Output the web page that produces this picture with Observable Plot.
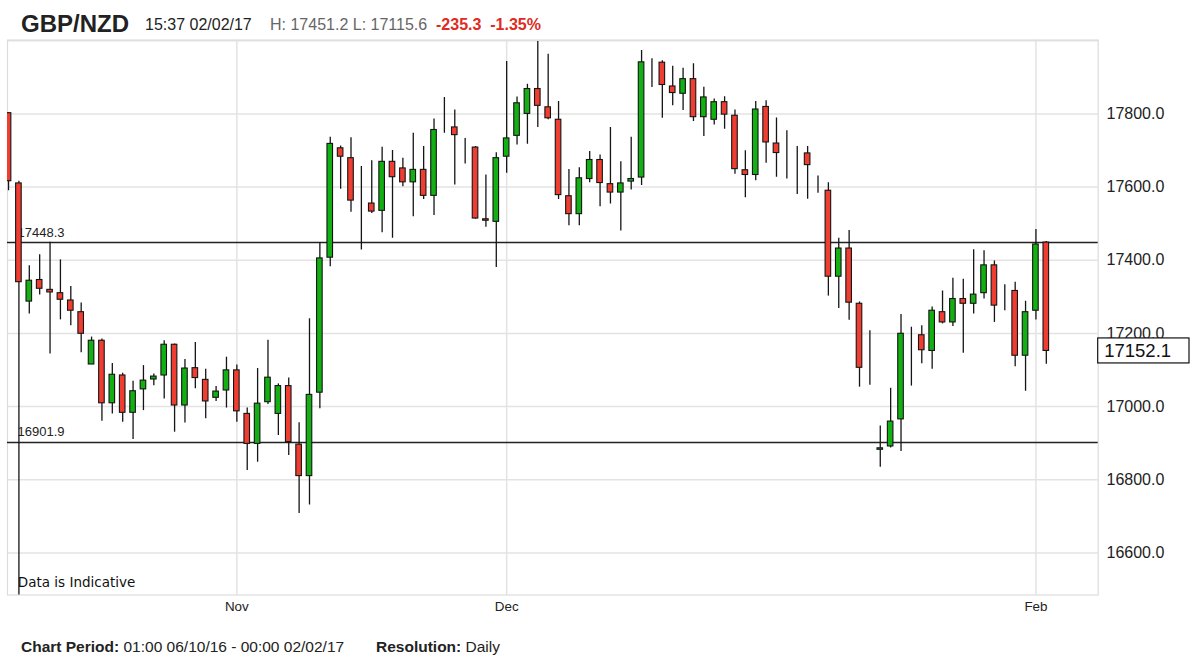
<!DOCTYPE html>
<html>
<head>
<meta charset="utf-8">
<script src="https://cdn.jsdelivr.net/npm/d3@7"></script>
<script src="https://cdn.jsdelivr.net/npm/@observablehq/plot@0.6"></script>
<style>
  html, body { margin: 0; padding: 0; background: #fff; }
  body { font-family: "Liberation Sans", Arial, Helvetica, sans-serif; color: #222; }
  #page { position: relative; width: 1196px; height: 661px; overflow: hidden; }
  #header { position: relative; height: 36px; }
  #header span, #footer span { position: absolute; white-space: pre; line-height: 1; }
  #chart { position: relative; height: 589px; }
  #chart svg { display: block; }
  #footer { position: relative; height: 36px; }
</style>
</head>
<body>
<div id="page">
  <div id="header">
    <span style="left:21px; top:12px; font-size:24px; font-weight:bold; color:#222;">GBP/NZD</span>
    <span style="left:145px; top:17px; font-size:16px; color:#222;">15:37 02/02/17</span>
    <span style="left:270px; top:17px; font-size:16px; color:#666;">H: 17451.2 L: 17115.6</span>
    <span style="left:436px; top:17px; font-size:16px; font-weight:bold; color:#e02a22;">-235.3&#160;&#160;-1.35%</span>
  </div>
  <div id="chart"></div>
  <div id="footer">
    <span style="left:21px; top:14px; font-size:15.5px; color:#222;"><b>Chart Period:</b> 01:00 06/10/16 - 00:00 02/02/17</span>
    <span style="left:376px; top:14px; font-size:15.5px; color:#222;"><b>Resolution:</b> Daily</span>
  </div>
</div>
<script>
// ---- data ----
const dates = [
  "2016-10-06","2016-10-07","2016-10-09","2016-10-10","2016-10-11","2016-10-12","2016-10-13","2016-10-14",
  "2016-10-16","2016-10-17","2016-10-18","2016-10-19","2016-10-20","2016-10-21","2016-10-23","2016-10-24",
  "2016-10-25","2016-10-26","2016-10-27","2016-10-28","2016-10-30","2016-10-31",
  "2016-11-01","2016-11-02","2016-11-03","2016-11-04","2016-11-06","2016-11-07","2016-11-08","2016-11-09",
  "2016-11-10","2016-11-11","2016-11-13","2016-11-14","2016-11-15","2016-11-16","2016-11-17","2016-11-18",
  "2016-11-20","2016-11-21","2016-11-22","2016-11-23","2016-11-24","2016-11-25","2016-11-27","2016-11-28",
  "2016-11-29","2016-11-30",
  "2016-12-01","2016-12-02","2016-12-04","2016-12-05","2016-12-06","2016-12-07","2016-12-08","2016-12-09",
  "2016-12-11","2016-12-12","2016-12-13","2016-12-14","2016-12-15","2016-12-16","2016-12-18","2016-12-19",
  "2016-12-20","2016-12-21","2016-12-22","2016-12-23","2016-12-26","2016-12-27","2016-12-28","2016-12-29",
  "2016-12-30",
  "2017-01-02","2017-01-03","2017-01-04","2017-01-05","2017-01-06","2017-01-08","2017-01-09","2017-01-10",
  "2017-01-11","2017-01-12","2017-01-13","2017-01-15","2017-01-16","2017-01-17","2017-01-18","2017-01-19",
  "2017-01-20","2017-01-22","2017-01-23","2017-01-24","2017-01-25","2017-01-26","2017-01-27","2017-01-29",
  "2017-01-30","2017-01-31",
  "2017-02-01","2017-02-02"
];
const open = [
  17802,17610,17287,17346,17319,17310,17290,17258,17115,17180,17009,17085,16983,17047,17074,17085,
  17169,17003,17105,17073,17024,17044,17099,16980,16898,17012,16980,17056,16896,16810,17038,17407,
  17706,17679,17560,17555,17535,17669,17651,17613,17647,17576,17761,17763,17713,17708,17512,17505,
  17683,17740,17800,17868,17818,17784,17575,17526,17622,17674,17608,17585,17615,17626,17941,17940,
  17875,17855,17895,17791,17784,17832,17795,17646,17633,17819,17719,17691,17691,17692,17593,17590,
  17355,17432,17281,17108,16882,16891,16965,17200,17195,17152,17258,17230,17294,17281,17310,17386,
  17319,17316,17139,17262,17448.3
];
const high = [
  17802,17616,17385,17415,17449,17401,17328,17283,17190,17185,17118,17091,17069,17112,17089,17180,
  17171,17129,17175,17102,17055,17135,17114,16996,17104,17181,17062,17078,16956,17240,17448,17736,
  17712,17735,17656,17672,17709,17700,17679,17747,17711,17786,17845,17811,17733,17711,17633,17694,
  17943,17846,17881,17998,17963,17834,17648,17653,17697,17688,17763,17669,17736,17973,17951,17945,
  17930,17925,17937,17873,17841,17847,17811,17699,17834,17836,17789,17754,17711,17711,17630,17612,
  17460,17481,17286,17207,16947,17050,17252,17217,17221,17272,17316,17351,17348,17429,17426,17398,
  17333,17340,17288,17484,17451.2
];
const low = [
  17590,16400,17253,17305,17144,17237,17221,17147,17115,16960,16980,16957,16910,16989,17057,17021,
  16930,16955,17049,16967,17014,16996,16957,16825,16848,17006,16921,16866,16708,16731,16994,17382,
  17594,17531,17428,17528,17475,17460,17601,17519,17566,17522,17747,17606,17663,17512,17490,17380,
  17638,17715,17717,17763,17784,17566,17494,17494,17612,17546,17554,17480,17592,17604,17872,17788,
  17822,17809,17779,17738,17770,17758,17635,17571,17617,17665,17627,17622,17580,17567,17583,17302,
  17268,17236,17053,17058,16834,16887,16877,17056,17117,17102,17226,17219,17146,17253,17294,17230,
  17262,17109,17042,17237,17115.6
];
const close = [
  17616,17340,17344,17322,17312,17292,17262,17199,17180,17009,17087,16983,17042,17071,17082,17169,
  17003,17104,17078,17014,17041,17099,16987,16898,17008,17079,17056,16903,16810,17032,17405,17718,
  17683,17563,17560,17533,17669,17627,17613,17647,17576,17756,17761,17742,17713,17514,17508,17679,
  17733,17829,17868,17822,17788,17578,17526,17624,17674,17611,17585,17610,17622,17941,17941,17879,
  17857,17895,17791,17845,17832,17798,17649,17633,17812,17722,17693,17691,17691,17660,17593,17355,
  17432,17284,17106,17108,16886,16959,17199,17200,17154,17262,17230,17294,17281,17306,17386,17276,
  17319,17139,17258,17443,17152.1
];
const levels = [17448.3, 16901.9];
const yTicks = [16600, 16800, 17000, 17200, 17400, 17600, 17800];
const tickDates = ["2016-11-01", "2016-12-01", "2017-02-01"];
const tickLabels = ["Nov", "Dec", "Feb"];
const lastPrice = 17152.1;
const note = "Data is Indicative";

// ---- build table ----
const candles = dates.map((d, i) => ({
  i, date: d, open: open[i], high: high[i], low: low[i], close: close[i]
}));
const tickIdx = tickDates.map(d => dates.indexOf(d));
const labelOf = new Map(tickIdx.map((t, k) => [t, tickLabels[k]]));
const fmt = d3.format(".1f");
const RED = "#ef3d31", GREEN = "#12b012", INK = "#151515";
const colorOf = d => d.close > d.open ? GREEN : d.close < d.open ? RED : INK;

const chart = Plot.plot({
  width: 1196,
  height: 589,
  marginLeft: 7,
  marginRight: 98.3,
  marginTop: 3.5,
  marginBottom: 30.5,
  style: { fontFamily: '"Liberation Sans", Arial, Helvetica, sans-serif', fontSize: "16px", color: "#222", background: "#fff" },
  x: { type: "linear", domain: [-0.1, 105], axis: null },
  y: { domain: [16485, 18002], axis: null },
  marks: [
    Plot.gridY([...yTicks, 18000], { stroke: "#e3e3e3", strokeOpacity: 1, strokeWidth: 1.5 }),
    Plot.gridX(tickIdx, { stroke: "#e3e3e3", strokeOpacity: 1, strokeWidth: 1.5 }),
    Plot.frame({ stroke: "#dcdcdc", strokeWidth: 1.2 }),
    Plot.ruleY(levels, { stroke: "#222", strokeWidth: 1.5 }),
    Plot.text(levels, {
      y: d => d, frameAnchor: "left", text: d => fmt(d), dx: 10, dy: -6,
      lineAnchor: "bottom", textAnchor: "start", fontSize: 13, fill: "#222"
    }),
    Plot.ruleX(candles, { x: "i", y1: "low", y2: "high", stroke: INK, strokeWidth: 1.3, clip: true }),
    Plot.rect(candles, {
      x1: d => d.i - 0.5, x2: d => d.i + 0.5, y1: "open", y2: "close",
      insetLeft: 2.4, insetRight: 2.4, fill: colorOf, stroke: INK, strokeWidth: 1.1, clip: true
    }),
    Plot.text([note], {
      frameAnchor: "bottom-left", text: d => d, dx: 10.3, dy: -7.8,
      lineAnchor: "bottom", textAnchor: "start", fontSize: 13.5,
      fontFamily: '"DejaVu Sans", Verdana, sans-serif', fill: "#111"
    }),
    Plot.axisY(yTicks, {
      anchor: "right", tickSize: 0, tickPadding: 8.3, tickFormat: fmt,
      label: null, fontSize: 16, fill: "#222"
    }),
    Plot.axisX(tickIdx, {
      anchor: "bottom", tickSize: 0, tickPadding: 6, tickFormat: t => labelOf.get(t),
      label: null, fontSize: 13.4, fill: "#222"
    }),
    (index, scales, values, dims) => {
      const g = d3.create("svg:g");
      const y = scales.y(lastPrice);
      const x0 = dims.width - dims.marginRight;
      g.append("rect")
        .attr("x", x0).attr("y", y - 12.5).attr("width", 91.3).attr("height", 25)
        .attr("fill", "#fff").attr("stroke", "#111").attr("stroke-width", 1.2);
      g.append("text")
        .attr("x", x0 + 6.5).attr("y", y).attr("dy", "0.35em")
        .attr("text-anchor", "start")
        .attr("font-size", 18.5).attr("fill", "#111").text(fmt(lastPrice));
      return g.node();
    }
  ]
});
document.getElementById("chart").appendChild(chart);
</script>
</body>
</html>
